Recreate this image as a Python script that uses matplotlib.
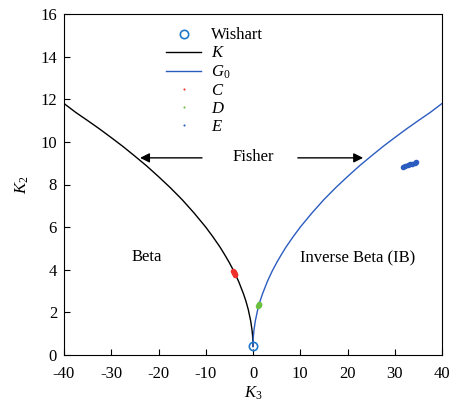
import matplotlib
matplotlib.use("Agg")
import matplotlib.pyplot as plt
from matplotlib.lines import Line2D

plt.rcParams['font.family'] = ['Liberation Serif', 'DejaVu Serif']
plt.rcParams['mathtext.fontset'] = 'custom'
plt.rcParams['mathtext.it'] = 'Liberation Serif:italic'
plt.rcParams['mathtext.rm'] = 'Liberation Serif'
plt.rcParams['axes.unicode_minus'] = False

# K curve (left branch)
k_x = [-40, -37.5, -35, -32.5, -30, -27.5, -25, -22.5, -20, -17.5, -15, -12.5, -10,
       -8.5, -7, -6, -5, -4, -3, -2, -1.5, -1, -0.5, -0.2, -0.1, -0.05, 0]
k_y = [11.8, 11.38, 11.0, 10.61, 10.2, 9.78, 9.33, 8.87, 8.37, 7.85, 7.29, 6.67, 6.0,
       5.55, 5.07, 4.71, 4.33, 3.91, 3.43, 2.86, 2.53, 2.13, 1.61, 1.16, 0.93, 0.78, 0.4]
# G0 curve (right branch)
g_x = [0, 0.05, 0.1, 0.2, 0.5, 1, 1.5, 2, 3, 4, 5, 6, 7, 8.5, 10, 12.5, 15, 17.5,
       20, 22.5, 25, 27.5, 30, 32.5, 35, 37.5, 40]
g_y = [0.4, 0.78, 0.93, 1.16, 1.61, 2.13, 2.53, 2.86, 3.43, 3.91, 4.33, 4.71, 5.07, 5.55,
       6.0, 6.67, 7.29, 7.85, 8.37, 8.87, 9.33, 9.78, 10.2, 10.61, 11.0, 11.38, 11.8]

wishart_x = [0]
wishart_y = [0.4]

c_x = [-4.3, -4.1, -4.0, -3.9, -3.8]
c_y = [3.95, 3.9, 3.85, 3.8, 3.75]
d_x = [1.1, 1.2, 1.3]
d_y = [2.3, 2.35, 2.4]
e_x = [31.7, 32.2, 32.7, 33.2, 33.7, 34.2, 34.5]
e_y = [8.83, 8.87, 8.9, 8.94, 8.98, 9.02, 9.05]

fig = plt.figure(figsize=(4.54, 4.08), dpi=100)
ax = fig.add_axes([64/454, 1 - 355/408, (442-64)/454, (355-14)/408])

ax.plot(k_x, k_y, color='black', lw=1.0, label='$K$')
ax.plot(g_x, g_y, color='#2b5cc0', lw=1.0, label='$G_0$')
ax.plot(wishart_x, wishart_y, 'o', mfc='none', mec='#1f78c8', mew=1.2, ms=6, label='Wishart', zorder=5)
ax.plot(c_x, c_y, 'o', color='#f0302a', ms=4, mec='none', label='$C$')
ax.plot(d_x, d_y, 'o', color='#6cc040', ms=4, mec='none', label='$D$')
ax.plot(e_x, e_y, 'o', color='#2b5cc0', ms=4, mec='none', label='$E$')

ax.set_xlim(-40, 40)
ax.set_ylim(0, 16)
ax.set_xticks(range(-40, 41, 10))
ax.set_yticks(range(0, 17, 2))
ax.tick_params(direction='in', labelsize=12, length=4, width=0.8)
ax.tick_params(axis='x', pad=8)
ax.tick_params(axis='y', pad=5)
for s in ax.spines.values():
    s.set_linewidth(0.8)

ax.set_xlabel('$K_3$', fontsize=12, labelpad=2)
ax.set_ylabel('$K_2$', fontsize=12, labelpad=7)

ax.text(0, 9.3, 'Fisher', ha='center', va='center', fontsize=12)
ax.annotate('', xy=(-24.5, 9.25), xytext=(-10.2, 9.25),
            arrowprops=dict(arrowstyle='-|>', color='black', lw=1.0, mutation_scale=14))
ax.annotate('', xy=(23.9, 9.25), xytext=(8.9, 9.25),
            arrowprops=dict(arrowstyle='-|>', color='black', lw=1.0, mutation_scale=14))
ax.text(-22.4, 4.6, 'Beta', ha='center', va='center', fontsize=12)
ax.text(22.2, 4.55, 'Inverse Beta (IB)', ha='center', va='center', fontsize=12)

handles, labels = ax.get_legend_handles_labels()
order = [2, 0, 1, 3, 4, 5]
h = [handles[i] for i in order]
l = [labels[i] for i in order]
h[3] = Line2D([], [], ls='none', marker='o', color='#f0302a', ms=1.5, mec='none')
h[4] = Line2D([], [], ls='none', marker='o', color='#6cc040', ms=1.5, mec='none')
h[5] = Line2D([], [], ls='none', marker='o', color='#2b5cc0', ms=1.5, mec='none')
ax.legend(h, l, loc='upper left', bbox_to_anchor=(0.24, 0.995), frameon=False,
          fontsize=12, handlelength=2.1, handletextpad=0.6, labelspacing=0.12,
          borderaxespad=0.3)

fig.savefig('out.png', dpi=100)
